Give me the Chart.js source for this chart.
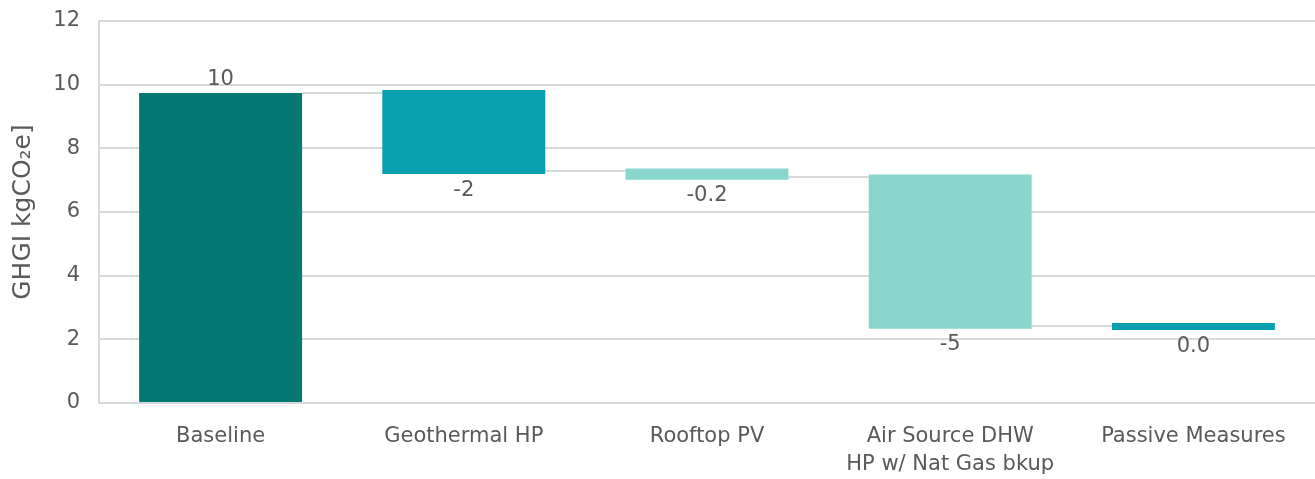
<!DOCTYPE html>
<html lang="en">
<head>
  <meta charset="UTF-8" />
  <title>GHGI waterfall</title>
  <style>
    body {
      margin: 0;
      padding: 0;
      background: #ffffff;
    }

    .chart-box {
      width: 1315px;
      height: 479px;
      position: relative;
    }
  </style>
</head>
<body>
  <div class="chart-box">
    <canvas id="waterfall"></canvas>
  </div>

  <script src="https://cdn.jsdelivr.net/npm/chart.js"></script>
  <script>
    // values
    const categories = ['Baseline', 'Geothermal HP', 'Rooftop PV', ['Air Source DHW', 'HP w/ Nat Gas bkup'], 'Passive Measures'];
    const barStart = [0, 7.19, 7.01, 2.33, 2.29];
    const barEnd = [9.74, 9.83, 7.37, 7.18, 2.51];
    const barLabels = ['10', '-2', '-0.2', '-5', '0.0'];
    const connectorLevels = [9.74, 7.29, 7.10, 2.42];
    const barColors = ['#047872', '#079fb0', '#89d7cc', '#89d7cc', '#079fb0'];
    const yTicks = [0, 2, 4, 6, 8, 10, 12];

    const gridColor = '#d9d9d9';
    const textColor = '#595959';
    const fontFamily = "'DejaVu Sans', sans-serif";

    const floating = barStart.map((s, i) => [s, barEnd[i]]);

    // grey step lines between neighbouring bars
    const connectorPlugin = {
      id: 'connectors',
      beforeDatasetsDraw(chart) {
        const ctx = chart.ctx;
        const meta = chart.getDatasetMeta(0);
        const y = chart.scales.y;
        ctx.save();
        ctx.strokeStyle = gridColor;
        ctx.lineWidth = 2;
        connectorLevels.forEach((v, i) => {
          const a = meta.data[i];
          const b = meta.data[i + 1];
          const py = Math.round(y.getPixelForValue(v));
          ctx.beginPath();
          ctx.moveTo(a.x + a.width / 2, py);
          ctx.lineTo(b.x - b.width / 2, py);
          ctx.stroke();
        });
        ctx.restore();
      }
    };

    // value labels: above for the first bar, under the others
    const labelPlugin = {
      id: 'barLabels',
      afterDatasetsDraw(chart) {
        const ctx = chart.ctx;
        const meta = chart.getDatasetMeta(0);
        const y = chart.scales.y;
        ctx.save();
        ctx.fillStyle = textColor;
        ctx.font = '21px ' + fontFamily;
        ctx.textAlign = 'center';
        ctx.textBaseline = 'middle';
        meta.data.forEach((bar, i) => {
          let py;
          if (i === 0) {
            py = y.getPixelForValue(barEnd[i]) - 13;
          } else {
            py = y.getPixelForValue(barStart[i]) + 16;
          }
          ctx.fillText(barLabels[i], bar.x, py);
        });
        ctx.restore();
      }
    };

    new Chart(document.getElementById('waterfall'), {
      type: 'bar',
      data: {
        labels: categories,
        datasets: [{
          data: floating,
          backgroundColor: barColors,
          borderWidth: 0,
          barPercentage: 0.67,
          categoryPercentage: 1
        }]
      },
      options: {
        responsive: true,
        maintainAspectRatio: false,
        animation: false,
        layout: {
          padding: { top: 0, right: 0, left: 8, bottom: 0 }
        },
        plugins: {
          legend: { display: false },
          tooltip: { enabled: false }
        },
        scales: {
          x: {
            grid: { display: false, drawTicks: false },
            border: { color: gridColor, width: 2 },
            ticks: {
              color: textColor,
              font: { family: fontFamily, size: 21, lineHeight: 1.33 },
              padding: 20,
              maxRotation: 0,
              autoSkip: false
            },
            afterFit(axis) {
              axis.height = 76;
            }
          },
          y: {
            min: 0,
            max: 12,
            afterBuildTicks(axis) {
              axis.ticks = yTicks.map(v => ({ value: v }));
            },
            grid: { color: gridColor, lineWidth: 2, drawTicks: false },
            border: { color: gridColor, width: 2 },
            ticks: {
              color: textColor,
              font: { family: fontFamily, size: 21 },
              padding: 19
            },
            title: {
              display: true,
              text: 'GHGI kgCO\u2082e]',
              color: textColor,
              font: { family: fontFamily, size: 25 },
              padding: { top: 0, bottom: 0 }
            },
            afterFit(axis) {
              axis.width = 91;
              axis.paddingTop = 21;
              axis.paddingBottom = 0;
            }
          }
        }
      },
      plugins: [connectorPlugin, labelPlugin]
    });
  </script>
</body>
</html>
